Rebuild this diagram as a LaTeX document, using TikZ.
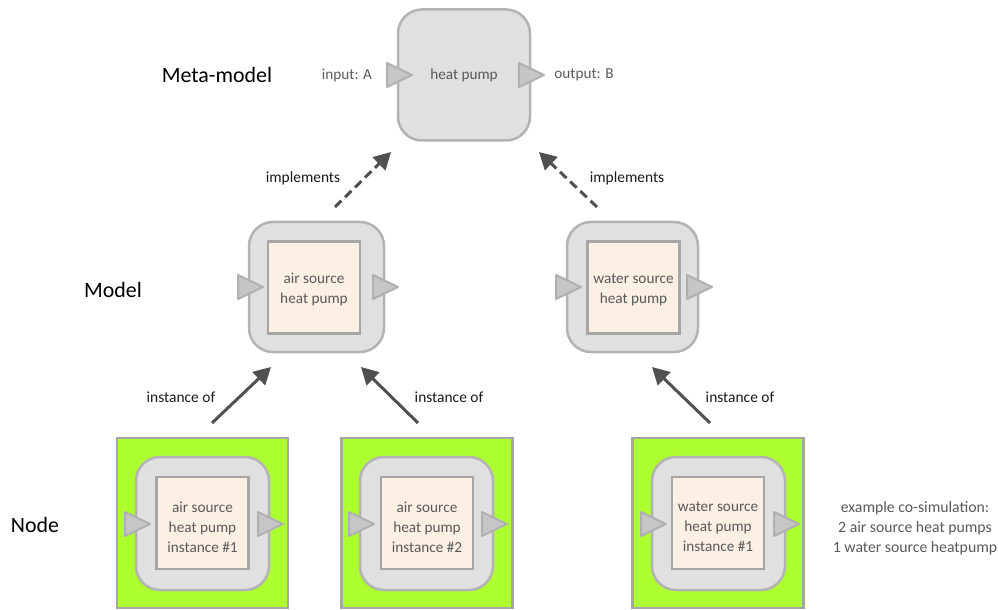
\documentclass[tikz,border=0pt]{standalone}
\usepackage{fontspec}
\setmainfont{Carlito}
\usetikzlibrary{arrows.meta}
\definecolor{boxgray}{HTML}{E0E0E0}
\definecolor{boxline}{HTML}{B3B3B3}
\definecolor{portfill}{HTML}{C6C6C6}
\definecolor{portline}{HTML}{B0B0B0}
\definecolor{cream}{HTML}{FBF0E3}
\definecolor{creamline}{HTML}{A6A6A6}
\definecolor{nodegreen}{HTML}{ADFF2F}
\definecolor{greenline}{HTML}{A6A6A6}
\definecolor{arrowgray}{HTML}{505050}
\definecolor{txtgray}{HTML}{595959}
\tikzset{
  outerbox/.style={draw=boxline, fill=boxgray, line width=2.5bp, rounded corners=24bp, inner sep=0pt},
  creambox/.style={draw=creamline, fill=cream, line width=2.5bp, inner sep=0pt,
    minimum width=92bp, minimum height=92bp},
  creamtext/.style={align=center, text=txtgray, inner sep=0pt,
    font=\fontsize{15.3}{20}\selectfont},
  greenbox/.style={draw=greenline, fill=nodegreen, line width=2.5bp, inner sep=0pt,
    minimum width=171bp, minimum height=170bp},
  porttri/.style={draw=portline, fill=portfill, line width=2bp, line join=round},
  boxtext/.style={text=txtgray, font=\fontsize{15.3}{20}\selectfont, inner sep=0pt},
  lbl/.style={text=black!90, font=\fontsize{15.5}{20}\selectfont, inner sep=0pt},
  level/.style={text=black, font=\fontsize{22}{26}\selectfont, inner sep=0pt},
  implarrow/.style={draw=arrowgray, line width=3bp, dash pattern=on 9bp off 5bp,
    -{Triangle[length=17bp,width=18bp]}},
  instarrow/.style={draw=arrowgray, line width=3bp, -{Triangle[length=17bp,width=18bp]}},
}
\newcommand{\myport}[2]{\draw[porttri] (#1-11,#2-12) -- (#1+14,#2) -- (#1-11,#2+12) -- cycle;}
\begin{document}
\begin{tikzpicture}[x=1bp,y=-1bp]
\useasboundingbox (0,0) rectangle (998,610);
% level labels
\node[level] (lmeta) at (217,75) {Meta-model};
\node[level] (lmodel) at (113,290) {Model};
\node[level] (lnode) at (35,525) {Node};

% meta-model
\node[outerbox, minimum width=132bp, minimum height=131bp] (meta) at (464,75) {};
\node[boxtext] (metat) at (464,75) {heat pump};
\myport{398}{75}
\myport{530}{75}
\node[boxtext] (inA) at (347,75) {input: A};
\node[boxtext] (outB) at (584,75) {output: B};

% models
\node[outerbox, minimum width=135bp, minimum height=130bp] (modA) at (316.5,287) {};
\node[creambox] (modAin) at (314,287.5) {};
\node[creamtext] (modAt) at (314,289.5) {air source\\heat pump};
\myport{249}{287}
\myport{384}{287}

\node[outerbox, minimum width=131bp, minimum height=130bp] (modW) at (632.5,287) {};
\node[creambox] (modWin) at (633.5,287.5) {};
\node[creamtext] (modWt) at (633.5,289.5) {water source\\heat pump};
\myport{567}{287}
\myport{698}{287}

% nodes
\node[greenbox] (n1) at (202.5,523) {};
\node[outerbox, minimum width=133bp, minimum height=133bp] (n1o) at (202.5,523.5) {};
\node[creambox] (n1i) at (202.5,523) {};
\node[creamtext] (n1t) at (202.5,527) {air source\\heat pump\\instance \#1};
\myport{136}{524}
\myport{269}{524}

\node[greenbox] (n2) at (427,523) {};
\node[outerbox, minimum width=133bp, minimum height=133bp] (n2o) at (426.5,523.5) {};
\node[creambox] (n2i) at (427,523) {};
\node[creamtext] (n2t) at (427,527) {air source\\heat pump\\instance \#2};
\myport{360}{524}
\myport{493}{524}

\node[greenbox] (n3) at (718,523) {};
\node[outerbox, minimum width=133bp, minimum height=133bp] (n3o) at (718.5,523.5) {};
\node[creambox] (n3i) at (718,523) {};
\node[creamtext] (n3t) at (718,527) {water source\\heat pump\\instance \#1};
\myport{652}{524}
\myport{785}{524}

\node[boxtext, align=center, font=\fontsize{15.8}{20}\selectfont] (note) at (915,528) {example co-simulation:\\2 air source heat pumps\\1 water source heatpump};

% implements arrows
\coordinate (iaS) at (335,207);
\coordinate (iaE) at (391,152);
\coordinate (ibS) at (597,207);
\coordinate (ibE) at (539,152);
\draw[implarrow] (iaS) -- (iaE);
\draw[implarrow] (ibS) -- (ibE);
\node[lbl] (impl1) at (303,178) {implements};
\node[lbl] (impl2) at (627,178) {implements};

% instance-of arrows
\coordinate (s1) at (212,423);
\coordinate (e1) at (271,367);
\coordinate (s2) at (418,423);
\coordinate (e2) at (361,367);
\coordinate (s3) at (710,423);
\coordinate (e3) at (652,367);
\draw[instarrow] (s1) -- (e1);
\draw[instarrow] (s2) -- (e2);
\draw[instarrow] (s3) -- (e3);
\node[lbl] (inst1) at (181,397) {instance of};
\node[lbl] (inst2) at (449,397) {instance of};
\node[lbl] (inst3) at (740,397) {instance of};
\end{tikzpicture}
\end{document}
